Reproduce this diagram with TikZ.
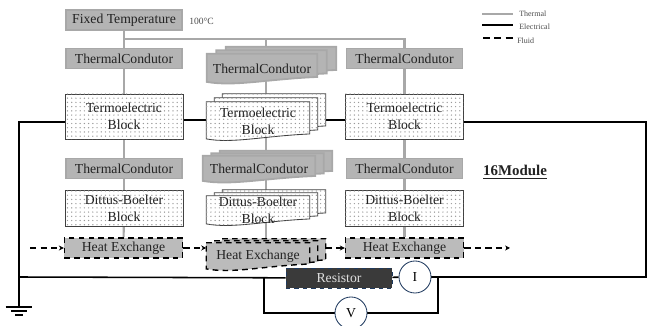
\documentclass[tikz,border=0pt]{standalone}
\usepackage{fontspec}
\setmainfont{Liberation Serif}
\usetikzlibrary{backgrounds,calc,patterns,arrows.meta}

\definecolor{condgray}{HTML}{B4B4B4}
\definecolor{condline}{HTML}{A8A8A8}
\definecolor{heatgray}{HTML}{BBBBBB}
\definecolor{textgray}{HTML}{222222}
\definecolor{resdark}{HTML}{3A3A3A}
\definecolor{meterline}{HTML}{1F3A5F}

\tikzset{
  boxtext/.style={font=\fontsize{9.75}{12}\selectfont, text=textgray, align=center, inner sep=0pt},
  condbox/.style={draw=condline, line width=1.3pt, fill=condgray},
  blockbox/.style={draw=black!75, line width=.6pt, fill=white, postaction={pattern=dots, pattern color=black!40}},
  heatbox/.style={draw=black, line width=1pt, dash pattern=on 4pt off 3pt, fill=heatgray},
  thermal/.style={draw=condline, line width=1.5pt},
  electrical/.style={draw=black, line width=1.1pt},
  fluid/.style={draw=black, line width=1.1pt, dash pattern=on 4.5pt off 3pt, -{Stealth[length=3.5pt,width=3.5pt]}},
  keytext/.style={font=\fontsize{5.7}{6}\selectfont, text=black!70, inner sep=0pt, anchor=west},
  meter/.style={circle, draw=meterline, line width=.6pt, fill=white, minimum size=.8cm, inner sep=0pt, font=\fontsize{9.75}{12}\selectfont}
}

% stack of three sheets with a wavy lower edge: name, centre, width, height, offset, style, text
\newcommand{\stacknode}[7]{
  \foreach \k/\nm in {2/c,1/b,0/a}{
    \node[minimum width=#3*.025cm, minimum height=#4*.025cm, inner sep=0pt] (#1\nm) at ($(#2)+\k*(#5)$) {};
    \path[#6] (#1\nm.north west) -- (#1\nm.north east) -- ([yshift=4.5pt]#1\nm.south east)
      .. controls ($(#1\nm.south west)!.55!(#1\nm.south east)+(0,3pt)$) and ($(#1\nm.south west)!.25!(#1\nm.south east)+(0,-2.5pt)$) .. ([yshift=1pt]#1\nm.south west) -- cycle;
  }
  \node[boxtext] (#1t) at (#2) {#7};
}

\begin{document}
\begin{tikzpicture}[x=.025cm, y=-.025cm]

\useasboundingbox (0,0) rectangle (653,326);

% left column
\node[condbox, boxtext, minimum width=2.9cm, minimum height=.5cm] (fixed) at (124,20) {Fixed Temperature};
\node[keytext, font=\fontsize{6.8}{8}\selectfont] (temp) at (189,21) {100°C};
\node[condbox, boxtext, minimum width=2.9cm, minimum height=.5cm] (cond1) at (124,58.5) {ThermalCondutor};
\node[blockbox, boxtext, minimum width=2.95cm, minimum height=1.125cm] (term1) at (124,116.5) {Termoelectric\\Block};
\node[condbox, boxtext, minimum width=2.9cm, minimum height=.5cm] (low1) at (124,168.5) {ThermalCondutor};
\node[blockbox, boxtext, minimum width=2.95cm, minimum height=.9cm] (ditt1) at (124,208) {Dittus-Boelter\\Block};
\node[heatbox, boxtext, minimum width=2.95cm, minimum height=.5cm] (heat1) at (123.5,248) {Heat Exchange};

% middle column
\stacknode{cond2}{262,68.5}{110}{29}{9.5,-3.5}{condbox}{ThermalCondutor}
\stacknode{term2}{258,121}{103}{38}{8,-4}{blockbox}{Termoelectric\\Block}
\stacknode{low2}{259,169}{112}{26}{8.5,-2.5}{condbox}{ThermalCondutor}
\stacknode{ditt2}{258,210.5}{103}{29}{8,-3}{blockbox}{Dittus-Boelter\\Block}
\stacknode{heat2}{258,256.5}{103}{27}{8,-2}{heatbox}{Heat Exchange}

% right column
\node[condbox, boxtext, minimum width=2.9cm, minimum height=.5cm] (cond3) at (404.5,58.5) {ThermalCondutor};
\node[blockbox, boxtext, minimum width=2.95cm, minimum height=1.125cm] (term3) at (404.5,116.5) {Termoelectric\\Block};
\node[condbox, boxtext, minimum width=2.9cm, minimum height=.5cm] (low3) at (404.5,168.5) {ThermalCondutor};
\node[blockbox, boxtext, minimum width=2.95cm, minimum height=.9cm] (ditt3) at (404.5,208) {Dittus-Boelter\\Block};
\node[heatbox, boxtext, minimum width=2.95cm, minimum height=.5cm] (heat3) at (404.5,248) {Heat Exchange};

% load circuit
\node[draw=meterline, dashed, line width=.4pt, fill=resdark, text=black!12, minimum width=2.65cm, minimum height=.5cm, inner sep=0pt, font=\fontsize{9.75}{12}\selectfont] (res) at (339,278) {Resistor};
\node[meter] (mi) at (415,277) {I};
\node[meter] (mv) at (351,313) {V};

\node[font=\bfseries\fontsize{10.6}{12}\selectfont, inner sep=0pt, text=textgray] (count) at (515,172) {\underline{16Module}};

% key
\node[keytext] (keyT) at (519,14) {Thermal};
\node[keytext] (keyE) at (519,26.5) {Electrical};
\node[keytext] (keyF) at (517,41) {Fluid};

\coordinate (busL) at (124,39);
\coordinate (busM) at (266,39);
\coordinate (busR) at (404.5,39);
\coordinate (wireL) at (19,122);
\coordinate (tapL) at (19,277);
\coordinate (gnd) at (19,307);
\coordinate (tapA) at (264,277);
\coordinate (tapB) at (438,277);
\coordinate (wireR) at (646,122);
\coordinate (fluidIn) at (30,248);
\coordinate (fluidOut) at (510,248);
\coordinate (keyTs) at (482,14);
\coordinate (keyTe) at (513,14);
\coordinate (keyEs) at (482,25);
\coordinate (keyEe) at (513,25);
\coordinate (keyFs) at (483,38);
\coordinate (keyFe) at (513,38);

\begin{scope}[on background layer]
\draw[thermal] (fixed) -- (cond1);
\draw[thermal] (cond1) -- (term1);
\draw[thermal] (term1) -- (low1);
\draw[thermal] (low1) -- (ditt1);
\draw[thermal] (ditt1) -- (heat1);
\draw[thermal] (busL) -- (busR) -- (cond3);
\draw[thermal] (cond3) -- (term3);
\draw[thermal] (term3) -- (low3);
\draw[thermal] (low3) -- (ditt3);
\draw[thermal] (ditt3) -- (heat3);
\draw[thermal] (busM) -- (busM |- heat2c.north);

\draw[electrical] (wireL -| term1.west) -- (wireL) -- (gnd);
\draw[electrical] ([yshift=-2.5pt]term1.east) -- ([yshift=-2.5pt]term1.east -| term3.west);
\draw[electrical] (wireR -| term3.east) -- (wireR) -- (tapL -| wireR) -- (mi);
\draw[electrical] (tapL) -- (res);
\draw[electrical] (res) -- (mi);
\draw[electrical] (tapA) |- (mv);
\draw[electrical] (mv) -| (tapB);
\end{scope}

\draw[fluid] (fluidIn) -- (heat1);
\draw[fluid] (heat1) -- (heat1 -| heat2a.west);
\draw[fluid] (heat3 -| heat2c.east) -- (heat3);
\draw[fluid] (heat3) -- (fluidOut);

% ground
\draw[electrical] ([xshift=-9.6pt]gnd) -- ([xshift=9.6pt]gnd);
\draw[electrical] ([xshift=-5.4pt,yshift=-2.9pt]gnd) -- ([xshift=5.4pt,yshift=-2.9pt]gnd);
\draw[electrical] ([xshift=-2.5pt,yshift=-5.8pt]gnd) -- ([xshift=2.5pt,yshift=-5.8pt]gnd);

\draw[thermal] (keyTs) -- (keyTe);
\draw[electrical] (keyEs) -- (keyEe);
\draw[draw=black, line width=1.1pt, dash pattern=on 5pt off 3pt] (keyFs) -- (keyFe);

\end{tikzpicture}
\end{document}
